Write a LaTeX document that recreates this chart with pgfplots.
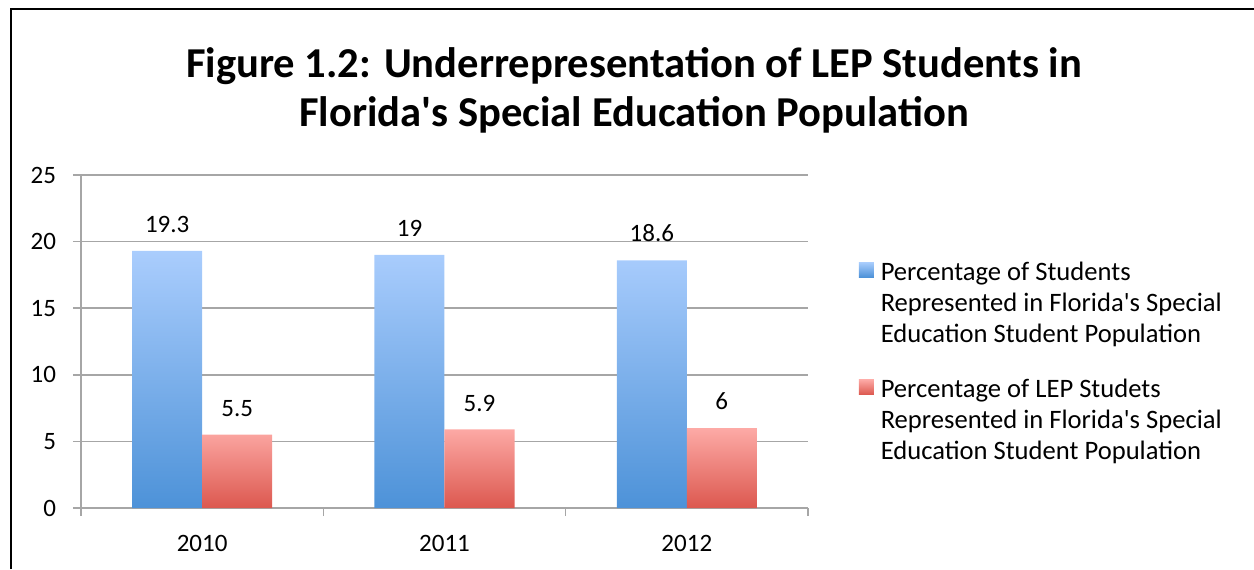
\documentclass[border=0pt]{standalone}
\usepackage{pgfplots}
\pgfplotsset{compat=1.18}
\usepackage{fontspec}
\setmainfont{Carlito}
\definecolor{gridgray}{HTML}{A6A6A6}
\definecolor{blueTop}{HTML}{AACDFD}
\definecolor{blueBot}{HTML}{4D92D8}
\definecolor{redTop}{HTML}{FDAAA6}
\definecolor{redBot}{HTML}{DC584F}
\newcommand{\ap}{\textquotesingle}
\begin{document}
\begin{tikzpicture}
\useasboundingbox (0,0) rectangle (627pt,284.5pt);
% frame (left and top)
\draw[black, line width=0.8pt] (5.5pt,0) -- (5.5pt,280pt) -- (627pt,280pt);
% title
\node[font=\fontsize{21.3}{25}\selectfont\bfseries, align=center, anchor=base, inner sep=0pt] at (317pt,221pt)
  {Figure 1.2: Underrepresentation of LEP Students in\\Florida\ap s Special Education Population};
\begin{axis}[
  at={(40.5pt,30.5pt)}, anchor=south west,
  scale only axis, width=363.5pt, height=166.5pt,
  ybar=0pt, bar width=35pt,
  xmin=-0.5, xmax=2.5, ymin=0, ymax=25,
  ytick={0,5,...,25},
  xtick={0,1,2}, xticklabels={2010,2011,2012},
  minor xtick={-0.5,0.5,1.5,2.5},
  axis x line*=bottom, axis y line*=left,
  axis line style={gridgray, line width=0.8pt, -},
  ymajorgrids, grid style={gridgray, line width=0.8pt},
  major tick length=4pt, minor tick length=4pt,
  tick align=outside,
  x tick style={draw=none},
  minor x tick style={draw=gridgray, line width=0.8pt},
  y tick style={gridgray, line width=0.8pt},
  tick label style={font=\fontsize{12.5}{15}\selectfont},
  /pgf/number format/assume math mode=true,
  xticklabel style={yshift=-6pt},
  yticklabel style={xshift=-5pt},
  nodes near coords,
  every node near coord/.append style={font=\fontsize{12.5}{15}\selectfont, yshift=5.5pt, black},
  legend style={at={(1.061,0.765)}, anchor=north west, draw=none, fill=none,
    font=\fontsize{13.3}{15.5}\selectfont, row sep=13pt, column sep=0pt,
    nodes={align=left, anchor=base west, inner xsep=3.5pt}},
  legend cell align=left,
  legend image code/.code={\path[#1] (0pt,32.5pt) rectangle (7.5pt,40pt);},
]
\addplot[draw=none, top color=blueTop, bottom color=blueBot] coordinates {(0,19.3) (1,19) (2,18.6)};
\addplot[draw=none, top color=redTop, bottom color=redBot] coordinates {(0,5.5) (1,5.9) (2,6)};
\legend{Percentage of Students\\Represented in Florida\ap s Special\\Education Student Population,
        Percentage of LEP Studets\\Represented in Florida\ap s Special\\Education Student Population}
\end{axis}
\end{tikzpicture}
\end{document}
